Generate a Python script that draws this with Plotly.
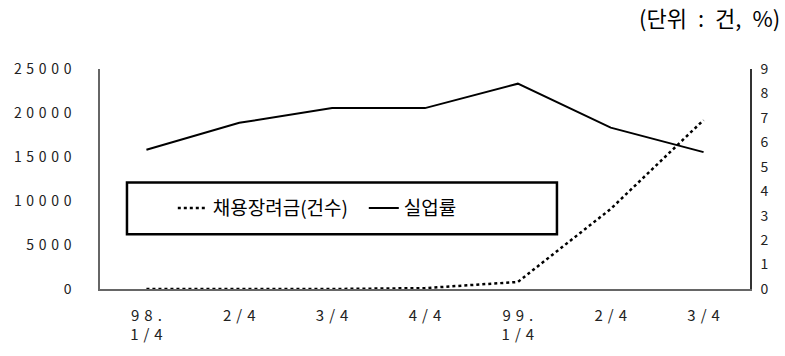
import plotly.graph_objects as go

# Quarterly figures, 1998 Q1 - 1999 Q3
quarters = ["98.\n1/4", "2/4", "3/4", "4/4", "99.\n1/4", "2/4", "3/4"]
subsidy_cases = [0, 0, 0, 100, 800, 9100, 19200]      # 채용장려금 (건수), left axis
unemployment_rate = [5.7, 6.8, 7.4, 7.4, 8.4, 6.6, 5.6]  # 실업률 (%), right axis

left_ticks = [0, 5000, 10000, 15000, 20000, 25000]
right_ticks = list(range(0, 10))

unit_note = "(단위 : 건, %)"

FONT = "Noto Sans CJK KR"
GAP = "\u2004"  # three-per-em space for the wide digit spacing


def spaced(s):
    return "<br>".join(GAP.join(ch for ch in line) for line in s.split("\n"))


x_idx = list(range(len(quarters)))

fig = go.Figure()
fig.add_trace(go.Scatter(
    x=x_idx, y=subsidy_cases, name="채용장려금(건수)", mode="lines",
    line=dict(color="black", width=2.5, dash="dot"), yaxis="y",
))
fig.add_trace(go.Scatter(
    x=x_idx, y=unemployment_rate, name="실업률", mode="lines",
    line=dict(color="black", width=2), yaxis="y2",
))

axis_color = "#666666"
tick_font = dict(family=FONT, size=14, color="#222222")

fig.update_layout(
    width=785, height=356,
    margin=dict(l=100, r=35, t=69, b=62),
    paper_bgcolor="white", plot_bgcolor="white",
    showlegend=True,
    legend=dict(
        orientation="h", x=0.112, xanchor="left", y=0.368, yanchor="middle",
        font=dict(family=FONT, size=19, color="black"),
        bgcolor="rgba(0,0,0,0)", borderwidth=0,
        entrywidth=146, entrywidthmode="pixels",
    ),
    xaxis=dict(
        range=[-0.5, 6.5], tickmode="array", tickvals=x_idx,
        ticktext=[spaced(q) for q in quarters],
        showline=True, linecolor=axis_color, linewidth=1.5,
        showgrid=False, zeroline=False, ticks="",
        ticklabelstandoff=12, tickfont=dict(family=FONT, size=15, color="#222222"),
    ),
    yaxis=dict(
        range=[0, 25000], tickmode="array", tickvals=left_ticks,
        ticktext=[spaced(str(v)) for v in left_ticks],
        showline=True, linecolor=axis_color, linewidth=1.5,
        showgrid=False, zeroline=False, ticks="",
        ticklabelstandoff=24, tickfont=tick_font,
    ),
    yaxis2=dict(
        range=[0, 9], tickmode="array", tickvals=right_ticks,
        overlaying="y", side="right",
        showline=True, linecolor="#333333", linewidth=1.5,
        showgrid=False, zeroline=False, ticks="",
        ticklabelstandoff=6, tickfont=tick_font,
    ),
    shapes=[dict(
        type="rect", xref="paper", yref="paper",
        x0=0.0415, x1=0.703, y0=0.249, y1=0.484,
        line=dict(color="black", width=2.5), fillcolor="rgba(0,0,0,0)",
    )],
    annotations=[dict(
        text=unit_note.replace(" ", "\u2002"), xref="paper", yref="paper",
        x=1.049, y=1.235, xanchor="right", yanchor="middle", showarrow=False,
        font=dict(family=FONT, size=22, color="black"),
    )],
)

fig.write_html("out.html")
